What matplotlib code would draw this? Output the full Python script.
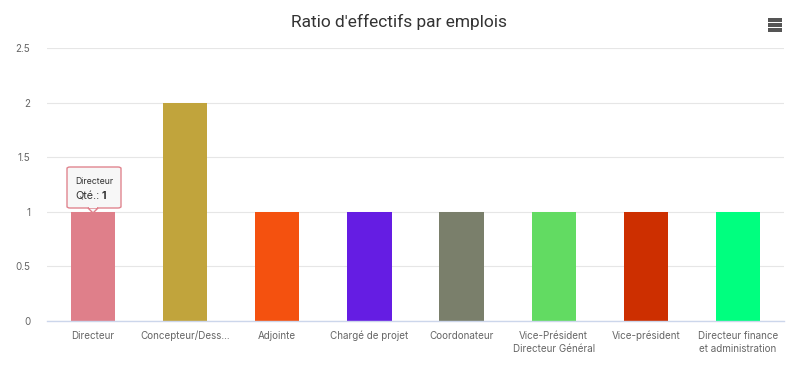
import matplotlib
matplotlib.use("Agg")
import matplotlib.pyplot as plt
from matplotlib.patches import FancyBboxPatch, Polygon, Rectangle

categories = ["Directeur", "Concepteur/Dess...", "Adjointe", "Chargé de projet", "Coordonateur",
              "Vice-Président\nDirecteur Général", "Vice-président", "Directeur finance\net administration"]
values = [1, 2, 1, 1, 1, 1, 1, 1]
colors = ["#DF7F8A", "#C1A43C", "#F4510F", "#651DE3", "#7A7F6B", "#62DB62", "#CD2F00", "#00FF7F"]
yticks = [0, 0.5, 1, 1.5, 2, 2.5]
ytick_labels = ["0", "0.5", "1", "1.5", "2", "2.5"]

plt.rcParams['font.family'] = ['Inter', 'DejaVu Sans']

fig = plt.figure(figsize=(7.98, 3.66), dpi=100)
ax = fig.add_axes([47/798, 1 - 321/366, (784-47)/798, (321-48)/366])

x = list(range(len(categories)))
ax.bar(x, values, width=0.48, color=colors, zorder=3)
ax.set_xlim(-0.5, len(categories) - 0.5)
ax.set_ylim(0, 2.5)
ax.set_yticks(yticks)
ax.set_yticklabels(ytick_labels)
ax.set_xticks(x)
ax.set_xticklabels(categories, linespacing=1.4)
ax.tick_params(axis='x', length=0, pad=7, labelsize=7.1, colors="#666666")
ax.tick_params(axis='y', length=0, pad=12, labelsize=7.1, colors="#666666")
for lbl in ax.get_yticklabels():
    lbl.set_horizontalalignment('right')
ax.grid(axis='y', color="#e6e6e6", linewidth=0.8, zorder=0)
for s in ["top", "right", "left"]:
    ax.spines[s].set_visible(False)
ax.spines["bottom"].set_color("#ccd6eb")
ax.spines["bottom"].set_linewidth(1)
ax.spines["bottom"].set_zorder(4)

fig.text(0.5, 1 - 22/366, "Ratio d'effectifs par emplois", ha='center', va='center',
         fontsize=12.5, color="#333333", family=['Roboto', 'DejaVu Sans'])

# menu icon
for yy in [20, 25, 30]:
    fig.patches.append(Rectangle((768/798, 1 - (yy+1.5)/366), 14/798, 3/366,
                                 transform=fig.transFigure, facecolor="#555555",
                                 edgecolor="none", linewidth=0))

# tooltip
bx0, bx1, by0, by1 = 67, 121, 167, 208
tip = FancyBboxPatch((bx0/798, 1 - by1/366), (bx1-bx0)/798, (by1-by0)/366,
                     boxstyle="round,pad=0,rounding_size=0.004", transform=fig.transFigure,
                     facecolor="#f7f7f7", edgecolor="#DF7F8A", linewidth=1, zorder=10, alpha=0.95)
fig.patches.append(tip)
arrow = Polygon([(88/798, 1 - by1/366), (93/798, 1 - 213/366), (98/798, 1 - by1/366)],
                closed=True, transform=fig.transFigure, facecolor="#f7f7f7", edgecolor="#DF7F8A",
                linewidth=1, zorder=11)
fig.patches.append(arrow)
fig.patches.append(Rectangle((88.7/798, 1 - (by1+0.3)/366), 8.6/798, 1.6/366,
                             transform=fig.transFigure, facecolor="#f7f7f7", edgecolor="none", zorder=12))
fig.text(75/798, 1 - 182/366, categories[0], fontsize=6.3, color="#333333", va='center', zorder=13)
fig.text(75/798, 1 - 196/366, "Qté.:", fontsize=7.8, color="#333333", va='center', zorder=13)
fig.text(101.5/798, 1 - 196/366, str(values[0]), fontsize=7.8, color="#333333", va='center',
         fontweight='bold', zorder=13)

fig.savefig("out.png", dpi=100)
